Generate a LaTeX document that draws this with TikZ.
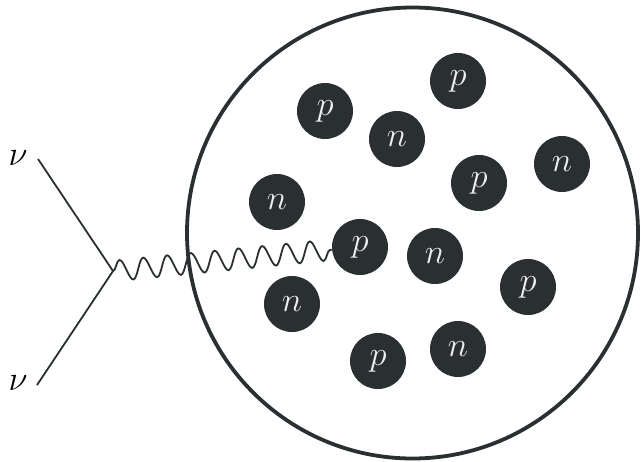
\documentclass[tikz,border=0pt]{standalone}
\usepackage{xcolor}
\usepackage{tikz}
\usetikzlibrary{decorations.pathmorphing}
\definecolor{nucdark}{HTML}{2A2F31}
\definecolor{nuclight}{HTML}{EEEEEE}

\begin{document}
\begin{tikzpicture}[
    x=0.5pt, y=-0.5pt,
    nucleon/.style={circle,fill=nucdark,minimum size=28pt,inner sep=0pt,
        text=nuclight,font=\fontsize{17}{20}\selectfont},
    nulabel/.style={font=\fontsize{16}{19}\selectfont,inner sep=0pt},
    fermion/.style={draw=nucdark,line width=0.9pt},
    photon/.style={draw=nucdark,line width=0.9pt,
        decorate,decoration={snake,amplitude=5.2pt,segment length=11.95pt}},
    nucleus/.style={draw=nucdark,line width=1.9pt},
]
\useasboundingbox (0,0) rectangle (641,461);

% ---- nucleus ----
\draw[nucleus] (412.5,233) circle (225.5);

% ---- nucleons ----
\node[nucleon] (p1) at (325,111) {$p$};
\node[nucleon] (p2) at (458,81)  {$p$};
\node[nucleon] (n1) at (397,139) {$n$};
\node[nucleon] (p3) at (479,183) {$p$};
\node[nucleon] (n2) at (562,164) {$n$};
\node[nucleon] (n3) at (277,202) {$n$};
\node[nucleon] (p4) at (360,247) {$p$};
\node[nucleon] (n4) at (435,256) {$n$};
\node[nucleon] (p5) at (528,287) {$p$};
\node[nucleon] (n5) at (292,304) {$n$};
\node[nucleon] (p6) at (378,361) {$p$};
\node[nucleon] (n6) at (458,349) {$n$};

% ---- neutrino lines ----
\node[nulabel] (nu1) at (18,158) {$\nu$};
\node[nulabel] (nu2) at (18,383) {$\nu$};
\coordinate (in1) at (38,159);
\coordinate (out1) at (37,385);
\coordinate (vtx) at (113,271);
\draw[fermion] (in1) -- (vtx) -- (out1);

% exchanged boson
\draw[photon] (vtx) -- (p4);
\end{tikzpicture}
\end{document}
